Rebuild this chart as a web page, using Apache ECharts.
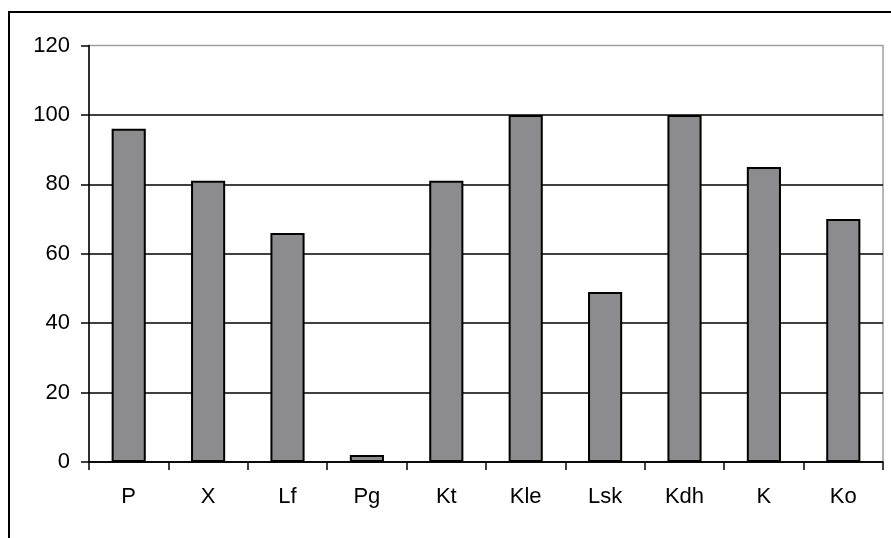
<!DOCTYPE html>
<html><head><meta charset="utf-8">
<script src="https://cdn.jsdelivr.net/npm/echarts@6/dist/echarts.min.js"></script>
<style>html,body{margin:0;padding:0;background:#fff}#c{width:891px;height:538px}</style>
</head><body><div id="c"></div>
<script>
const categories = ['P','X','Lf','Pg','Kt','Kle','Lsk','Kdh','K','Ko'];
const values = [96,81,66,2,81,100,49,100,85,70];
const yTicks = {min:0,max:120,interval:20};

const chart = echarts.init(document.getElementById('c'), null, {renderer:'canvas'});
chart.setOption({
  animation:false,
  backgroundColor:'#fff',
  graphic:[{type:'polyline',shape:{points:[[9,540],[9,12],[895,12]]},style:{stroke:'#000',lineWidth:2,fill:null}}],
  grid:{left:89,top:45.5,width:794,height:416.5,show:true,borderColor:'#a0a0a0',borderWidth:1.5,containLabel:false},
  xAxis:{type:'category',data:categories,
    axisLine:{lineStyle:{color:'#000',width:1.5}},
    axisTick:{show:true,length:8,lineStyle:{color:'#000',width:1.5}},
    axisLabel:{color:'#000',fontFamily:'Liberation Sans',fontSize:22,margin:24}},
  yAxis:{type:'value',min:yTicks.min,max:yTicks.max,interval:yTicks.interval,
    axisLine:{show:true,lineStyle:{color:'#000',width:1.5}},
    axisTick:{show:true,length:8,lineStyle:{color:'#000',width:1.5}},
    splitLine:{show:true,showMaxLine:false,lineStyle:{color:'#000',width:1.5}},
    axisLabel:{color:'#000',fontFamily:'Liberation Sans',fontSize:22,margin:19}},
  series:[{type:'bar',data:values,barCategoryGap:'57%',
    itemStyle:{color:'#8c8c90',borderColor:'#000',borderWidth:2}}]
});
</script></body></html>
